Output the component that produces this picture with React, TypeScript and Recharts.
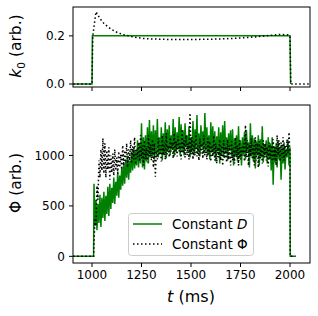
import React from "react";
import { LineChart, Line, XAxis, YAxis } from "recharts";

// ---- data ----
const xTicks = [1000, 1250, 1500, 1750, 2000];
const kTicks = [0, 0.2];
const phiTicks = [0, 500, 1000];

// top panel: k0 vs t
const kConstDTimes = [905, 1000, 1002, 2000, 2003];
const kConstDValues = [0, 0, 0.2, 0.2, 0];

const kConstPhiTimes = [905, 1000, 1004, 1020, 1040, 1060, 1080, 1100, 1130, 1160, 1200, 1250, 1300, 1400, 1500, 1600, 1700, 1800, 1900, 1950, 1990, 2000, 2004, 2100];
const kConstPhiValues = [0, 0, 0.2, 0.3, 0.272, 0.252, 0.238, 0.226, 0.213, 0.205, 0.197, 0.19, 0.187, 0.185, 0.185, 0.186, 0.189, 0.194, 0.202, 0.206, 0.204, 0.2, 0, 0];

// bottom panel: Phi vs t, one value every 5 ms from 1010 to 2000
const phiConstD = [
  720, 300, 560, 260, 520, 330, 610, 290, 580, 380,
  640, 350, 600, 420, 690, 400, 720, 470, 680, 530,
  780, 520, 740, 600, 840, 580, 800, 660, 880, 700,
  920, 720, 960, 780, 1000, 760, 950, 830, 1040, 850,
  1080, 870, 1040, 900, 1150, 880, 1120, 920, 1320, 880,
  1180, 860, 1200, 940, 1280, 920, 1350, 980, 1240, 990,
  1300, 960, 1250, 1000, 1360, 980, 1180, 1020, 1280, 950,
  1220, 1010, 1330, 970, 1260, 1050, 1300, 1000, 1200, 1060,
  1360, 990, 1280, 1030, 1230, 1060, 1380, 1000, 1310, 1040,
  1250, 1000, 1320, 1080, 1200, 1050, 1290, 980, 1180, 1030,
  1340, 1000, 1260, 1060, 1400, 1020, 1220, 990, 1300, 1080,
  1240, 1020, 1420, 1050, 1280, 1000, 1200, 960, 1330, 1030,
  1290, 1010, 1240, 940, 1190, 1040, 1280, 920, 1230, 1000,
  1300, 980, 1340, 1020, 1180, 950, 1220, 1060, 1250, 990,
  1260, 900, 1170, 1000, 1200, 940, 1290, 970, 1150, 900,
  1180, 1010, 1230, 960, 1250, 1040, 1130, 880, 1320, 990,
  1200, 940, 1170, 870, 1140, 1000, 1200, 900, 1160, 980,
  1290, 930, 1110, 1000, 1150, 920, 1180, 960, 1120, 850,
  1180, 710, 1090, 930, 1120, 880, 1150, 960, 1080, 760,
  1100, 920, 1130, 860, 1060, 980, 1150, 900, 1080,
];
const phiConstPhi = [
  120, 380, 300, 700, 560, 950, 780, 1060, 850, 1170,
  820, 1120, 780, 1050, 860, 1080, 760, 1000, 830, 1020,
  800, 1060, 850, 980, 820, 1040, 880, 1010, 860, 1100,
  900, 1050, 930, 1120, 880, 1060, 950, 1150, 920, 1090,
  960, 1180, 910, 1070, 980, 1130, 940, 1200, 970, 1100,
  900, 1150, 960, 1080, 930, 1200, 990, 1110, 950, 1160,
  880, 1120, 790, 1050, 960, 1170, 1000, 1100, 940, 1200,
  1000, 1130, 960, 1220, 1010, 1100, 980, 1180, 1040, 1130,
  970, 1220, 1010, 1140, 990, 1190, 1040, 1120, 960, 1260,
  1020, 1150, 980, 1200, 1000, 1120, 960, 1420, 1010, 1180,
  960, 1150, 1000, 1230, 990, 1100, 950, 1170, 1020, 1120,
  970, 1200, 1000, 1110, 960, 1170, 1010, 1140, 940, 1100,
  990, 1200, 950, 1120, 920, 1080, 980, 1160, 950, 1100,
  900, 1150, 970, 1090, 930, 1160, 960, 1100, 900, 1140,
  950, 1080, 920, 1180, 980, 1100, 900, 1150, 960, 1080,
  1000, 1120, 940, 1300, 980, 1150, 900, 1110, 990, 1170,
  960, 1100, 900, 1180, 950, 1120, 880, 1140, 970, 1100,
  920, 1150, 980, 1120, 950, 1080, 890, 1130, 970, 1100,
  920, 1160, 960, 1080, 900, 1200, 1000, 1150, 940, 1130,
  980, 1180, 950, 1100, 990, 1160, 1020, 1230, 1000,
];

const sampleTimes = phiConstD.map((_, i) => 1010 + i * 5);

const zip = (ts: number[], vs: number[]) => ts.map((t, i) => ({ t, v: vs[i] }));
const withEdges = (vs: number[]) => [
  { t: 905, v: 0 },
  { t: 1008, v: 0 },
  ...zip(sampleTimes, vs),
  { t: 2001, v: 0 },
  { t: 2028, v: 0 },
];

const kDataD = zip(kConstDTimes, kConstDValues);
const kDataPhi = zip(kConstPhiTimes, kConstPhiValues);
const phiDataD = withEdges(phiConstD);
const phiDataPhi = withEdges(phiConstPhi);

const GREEN = "#008000";
const FONT = "DejaVu Sans, sans-serif";
const tickStyle = { fontSize: 12, fill: "#000", fontFamily: FONT };
const X_DOMAIN: [number, number] = [904, 2101];
const DOTS = "1.5 2.5";

export default function App() {
  return (
    <div style={{ position: "absolute", left: 0, top: 0, width: 318, height: 316, background: "#fff", fontFamily: FONT }}>
      {/* top panel */}
      <div style={{ position: "absolute", left: 0, top: 0 }}>
        <LineChart width={318} height={100} margin={{ top: 7, right: 8, bottom: 0, left: 0 }}>
          <XAxis
            type="number"
            dataKey="t"
            domain={X_DOMAIN}
            ticks={xTicks}
            allowDataOverflow
            height={13}
            axisLine={false}
            tickSize={4}
            tickLine={{ stroke: "#000" }}
            tickFormatter={() => ""}
          />
          <YAxis
            type="number"
            dataKey="v"
            domain={[-0.0125, 0.32]}
            ticks={kTicks}
            allowDataOverflow
            width={73}
            axisLine={false}
            tickSize={4}
            tickMargin={4}
            tickLine={{ stroke: "#000" }}
            tick={tickStyle}
            tickFormatter={(v: number) => v.toFixed(1)}
          />
          <Line data={kDataD} dataKey="v" type="linear" stroke={GREEN} strokeWidth={1.5} dot={false} isAnimationActive={false} />
          <Line data={kDataPhi} dataKey="v" type="linear" stroke="#000" strokeWidth={1.5} strokeDasharray={DOTS} dot={false} isAnimationActive={false} />
        </LineChart>
      </div>

      {/* bottom panel */}
      <div style={{ position: "absolute", left: 0, top: 100 }}>
        <LineChart width={318} height={216} margin={{ top: 5, right: 8, bottom: 0, left: 0 }}>
          <XAxis
            type="number"
            dataKey="t"
            domain={X_DOMAIN}
            ticks={xTicks}
            allowDataOverflow
            height={53}
            axisLine={false}
            tickSize={4}
            tickMargin={3}
            tickLine={{ stroke: "#000" }}
            tick={tickStyle}
          />
          <YAxis
            type="number"
            dataKey="v"
            domain={[-66, 1500]}
            ticks={phiTicks}
            allowDataOverflow
            width={73}
            axisLine={false}
            tickSize={4}
            tickMargin={4}
            tickLine={{ stroke: "#000" }}
            tick={tickStyle}
          />
          <Line data={phiDataD} dataKey="v" type="linear" stroke={GREEN} strokeWidth={1.5} dot={false} isAnimationActive={false} />
          <Line data={phiDataPhi} dataKey="v" type="linear" stroke="#000" strokeWidth={1.5} strokeDasharray={DOTS} dot={false} isAnimationActive={false} />
        </LineChart>
      </div>

      {/* frames, axis labels, legend */}
      <svg width={318} height={316} style={{ position: "absolute", left: 0, top: 0, pointerEvents: "none" }}>
        <rect x={73} y={7} width={237} height={80} fill="none" stroke="#000" strokeWidth={1} />
        <rect x={73} y={105} width={237} height={158} fill="none" stroke="#000" strokeWidth={1} />

        <text transform="translate(21,46) rotate(-90)" textAnchor="middle" fontSize={15.5} fontFamily={FONT} fill="#000">
          <tspan fontStyle="italic">k</tspan>
          <tspan fontSize={10.5} dy={4}>0</tspan>
          <tspan dy={-4}> (arb.)</tspan>
        </text>
        <text transform="translate(21,183) rotate(-90)" textAnchor="middle" fontSize={15.5} fontFamily={FONT} fill="#000">
          Φ (arb.)
        </text>
        <text x={191} y={302} textAnchor="middle" fontSize={16} fontFamily={FONT} fill="#000">
          <tspan fontStyle="italic">t</tspan> (ms)
        </text>

        <rect x={128.5} y={213.5} width={125} height={42} rx={3} fill="#fff" fillOpacity={0.8} stroke="#ccc" strokeWidth={1} />
        <line x1={133} x2={162} y1={224} y2={224} stroke={GREEN} strokeWidth={1.5} />
        <text x={172} y={228.5} fontSize={13.5} fontFamily={FONT} fill="#000">
          Constant <tspan fontStyle="italic">D</tspan>
        </text>
        <line x1={133} x2={162} y1={244} y2={244} stroke="#000" strokeWidth={1.5} strokeDasharray={DOTS} />
        <text x={172} y={248.5} fontSize={13.5} fontFamily={FONT} fill="#000">
          Constant Φ
        </text>
      </svg>
    </div>
  );
}
